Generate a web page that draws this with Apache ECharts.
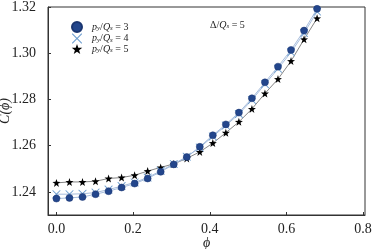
<!DOCTYPE html>
<html><head><meta charset="utf-8">
<script src="https://cdn.jsdelivr.net/npm/echarts@6/dist/echarts.min.js"></script>
<style>html,body{margin:0;padding:0;background:#fff}#c{width:374px;height:249px}</style>
</head><body><div id="c"></div>
<script>
var phi = [0, 0.034, 0.068, 0.102, 0.136, 0.17, 0.204, 0.238, 0.272, 0.306, 0.34,
           0.374, 0.408, 0.442, 0.476, 0.51, 0.544, 0.578, 0.612, 0.646, 0.68];
var c3 = [1.2371, 1.2374, 1.2378, 1.2390, 1.2403, 1.2419, 1.2436, 1.2458, 1.2487, 1.2519, 1.2551,
          1.2595, 1.2645, 1.2692, 1.2743, 1.2805, 1.2874, 1.2942, 1.3014, 1.3098, 1.3192];
var c4 = [1.2390, 1.2390, 1.2392, 1.2397, 1.2410, 1.2425, 1.2441, 1.2462, 1.2491, 1.2521, 1.2552,
          1.2592, 1.2640, 1.2687, 1.2737, 1.2798, 1.2866, 1.2933, 1.3004, 1.3087, 1.3180];
var c5 = [1.2439, 1.2443, 1.2443, 1.2446, 1.2458, 1.2462, 1.2472, 1.2490, 1.2506, 1.2521, 1.2545,
          1.2573, 1.2611, 1.2656, 1.2703, 1.2759, 1.2826, 1.2888, 1.2966, 1.3060, 1.3151];
var names = ['p3', 'p4', 'p5'];
var ratios = ['3', '4', '5'];
var xTicks = [0, 0.2, 0.4, 0.6, 0.8];
var yTicks = [1.24, 1.26, 1.28, 1.30, 1.32];

function pairs(ys){ return phi.map(function(x,i){ return [x, ys[i]]; }); }
var STAR = 'path://M0,-10 L2.35,-3.24 9.51,-3.09 3.8,1.24 5.88,8.09 0,4 -5.88,8.09 -3.8,1.24 -9.51,-3.09 -2.35,-3.24Z';
var XS = 'path://M0,0 L0.8,0 L5,4.2 L9.2,0 L10,0 L10,0.8 L5.8,5 L10,9.2 L10,10 L9.2,10 L5,5.8 L0.8,10 L0,10 L0,9.2 L4.2,5 L0,0.8 Z';
var FONT = 'Liberation Serif';

var chart = echarts.init(document.getElementById('c'), null, {renderer:'canvas'});
chart.setOption({
  animation:false,
  backgroundColor:'#fff',
  grid:{left:48, right:9, top:7, bottom:34, containLabel:false, outerBoundsMode:'none',
    show:true, borderColor:'#333', borderWidth:1, backgroundColor:'transparent'},
  xAxis:{type:'value', min:-0.022, max:0.805, interval:0.2,
    name:'\u03d5', nameLocation:'middle', nameGap:21, nameMoveOverlap:false,
    nameTextStyle:{fontFamily:FONT, fontStyle:'italic', fontSize:14, color:'#222'},
    axisLine:{show:true, onZero:false, lineStyle:{color:'#333', width:1}}, splitLine:{show:false},
    axisTick:{show:true, inside:true, length:3, lineStyle:{color:'#333'}, customValues:xTicks},
    axisLabel:{fontFamily:FONT, fontSize:14, color:'#222', margin:7, customValues:xTicks,
      formatter:function(v){return v.toFixed(1);}}
  },
  yAxis:{type:'value', min:1.23, max:1.32, interval:0.01,
    name:'C(\u03d5)', nameLocation:'middle', nameGap:36, nameRotate:90, nameMoveOverlap:false,
    nameTextStyle:{fontFamily:FONT, fontStyle:'italic', fontSize:14, color:'#222'},
    axisLine:{show:true, onZero:false, lineStyle:{color:'#333', width:1}}, splitLine:{show:false},
    axisTick:{show:true, inside:true, length:3, lineStyle:{color:'#333'}, customValues:yTicks},
    axisLabel:{fontFamily:FONT, fontSize:14, color:'#222', margin:12, customValues:yTicks,
      formatter:function(v){return v.toFixed(2);}}
  },
  legend:{orient:'vertical', left:66, top:16, itemWidth:14, itemHeight:10, itemGap:-0.5,
    data:[
      {name:names[0], icon:'circle', itemStyle:{color:'#23468c'}},
      {name:names[1], icon:XS, itemStyle:{color:'#6f9fd0'}},
      {name:names[2], icon:STAR, itemStyle:{color:'#000'}}
    ],
    formatter:function(n){ var r = ratios[names.indexOf(n)];
      return '{i|p}{s|y}{n|/}{i|Q}{s|s}{n| = '+r+'}'; },
    textStyle:{padding:[0,0,0,3],
      rich:{
        i:{fontFamily:FONT, fontStyle:'italic', fontSize:10, color:'#222', lineHeight:10},
        n:{fontFamily:FONT, fontSize:10, color:'#222', lineHeight:10},
        s:{fontFamily:FONT, fontStyle:'italic', fontSize:7, color:'#222', lineHeight:10, verticalAlign:'bottom', padding:[4,0,0,0]}
      }}
  },
  graphic:[{type:'text', left:210, top:19, style:{
    text:'{n|\u0394/}{i|Q}{s|s}{n| = 5}',
    rich:{
      i:{fontFamily:FONT, fontStyle:'italic', fontSize:10, fill:'#222', lineHeight:10},
      n:{fontFamily:FONT, fontSize:10, fill:'#222', lineHeight:10},
      s:{fontFamily:FONT, fontStyle:'italic', fontSize:7, fill:'#222', lineHeight:10, verticalAlign:'bottom', padding:[4,0,0,0]}
    }}}],
  series:[
    {name:names[2], type:'line', data:pairs(c5), symbol:STAR, symbolSize:8, z:2,
      lineStyle:{color:'#777', width:0.9}, itemStyle:{color:'#000'}},
    {name:names[1], type:'line', data:pairs(c4), symbol:XS, symbolSize:8, z:3,
      lineStyle:{color:'#9db6d8', width:0.9}, itemStyle:{color:'#6f9fd0'}},
    {name:names[0], type:'line', data:pairs(c3), symbol:'circle', symbolSize:7, z:4,
      lineStyle:{color:'#9db6d8', width:0.9}, itemStyle:{color:'#23468c', borderColor:'#1a3570', borderWidth:0.5}}
  ]
});
</script></body></html>
